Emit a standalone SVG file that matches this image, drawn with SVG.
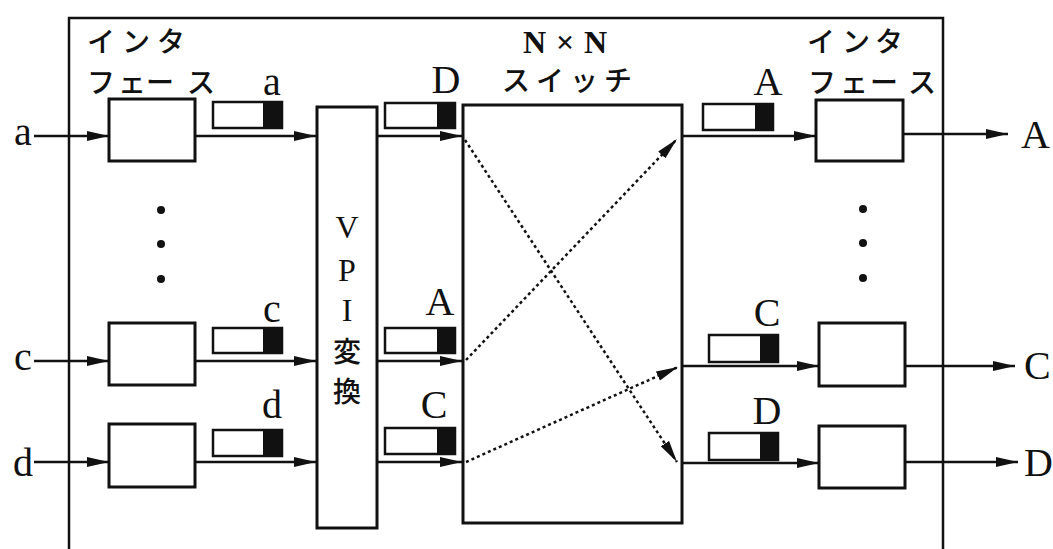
<svg xmlns="http://www.w3.org/2000/svg" width="1053" height="549" viewBox="0 0 1053 549">
<style>
.box{fill:#fff;stroke:#111;stroke-width:3}
.cell{fill:#fff;stroke:#111;stroke-width:2.5}
.tag{fill:#111}
.ln{fill:none;stroke:#111;stroke-width:2.5}
.dot{fill:none;stroke:#111;stroke-width:2.5;stroke-dasharray:3 3}
.lbl{font-family:"Liberation Serif",serif;font-size:40px;fill:#111}
.lbl2{font-family:"Liberation Serif",serif;font-size:32px;fill:#111}
.jp{font-family:"Noto Sans CJK JP",sans-serif;font-size:28px;font-weight:500;fill:#111}
.jp2{font-family:"Noto Sans CJK JP",sans-serif;font-size:28px;font-weight:500;fill:#111}
</style>
<defs>
<marker id="arr" viewBox="0 0 22 12" refX="22" refY="6" markerWidth="22" markerHeight="12" markerUnits="userSpaceOnUse" orient="auto">
<path d="M0,1 L22,6 L0,11 Z" fill="#111"/>
</marker>
</defs>
<rect width="1053" height="549" fill="#fff"/>

<g id="frame">
<path d="M69,549 V18 H943 V549" class="ln" stroke-width="3"/>
<text class="jp"><tspan x="87 122 157" y="52">インタ</tspan></text>
<text class="jp"><tspan x="87 118 146 187" y="93">フェース</tspan></text>
<text class="jp"><tspan x="807 842 875" y="52">インタ</tspan></text>
<text class="jp"><tspan x="808 840 870 908" y="93">フェース</tspan></text>
</g>

<g id="in-if-a"><rect class="box" x="109" y="99" width="86" height="62"/></g>
<g id="in-if-c"><rect class="box" x="109" y="323" width="86" height="62"/></g>
<g id="in-if-d"><rect class="box" x="109" y="424" width="86" height="63"/></g>
<g id="in-dots"><circle cx="161" cy="210" r="4" fill="#111"/><circle cx="161" cy="244" r="4" fill="#111"/><circle cx="161" cy="279" r="4" fill="#111"/></g>

<g id="cell-a"><rect class="cell" x="213" y="102" width="69" height="26"/><rect class="tag" x="263" y="102" width="19" height="26"/><text class="lbl" x="272" y="95" text-anchor="middle">a</text></g>
<g id="cell-c"><rect class="cell" x="213" y="328" width="69" height="25"/><rect class="tag" x="263" y="328" width="19" height="25"/><text class="lbl" x="272" y="322" text-anchor="middle">c</text></g>
<g id="cell-d"><rect class="cell" x="213" y="430" width="69" height="26"/><rect class="tag" x="263" y="430" width="19" height="26"/><text class="lbl" x="272" y="418" text-anchor="middle">d</text></g>

<g id="vpi">
<rect class="box" x="317" y="107" width="60" height="421"/>
<text class="lbl2" x="347" y="238" text-anchor="middle">V</text>
<text class="lbl2" x="347" y="281" text-anchor="middle">P</text>
<text class="lbl2" x="347" y="321" text-anchor="middle">I</text>
<text class="jp2" x="347" y="362" text-anchor="middle">変</text>
<text class="jp2" x="347" y="402" text-anchor="middle">換</text>
</g>

<g id="cell-D"><rect class="cell" x="385" y="103" width="70" height="25"/><rect class="tag" x="437" y="103" width="18" height="25"/><text class="lbl" x="446" y="93" text-anchor="middle">D</text></g>
<g id="cell-A1"><rect class="cell" x="385" y="328" width="70" height="25"/><rect class="tag" x="437" y="328" width="18" height="25"/><text class="lbl" x="440" y="315" text-anchor="middle">A</text></g>
<g id="cell-C1"><rect class="cell" x="385" y="428" width="70" height="26"/><rect class="tag" x="437" y="428" width="18" height="26"/><text class="lbl" x="434" y="418" text-anchor="middle">C</text></g>

<g id="switch">
<rect class="box" x="463" y="105" width="219" height="418"/>
<text class="lbl2" font-weight="bold"><tspan x="523" y="53">N</tspan><tspan x="556" y="53">×</tspan><tspan x="584" y="53">N</tspan></text>
<text class="jp"><tspan x="502 536 570 604" y="91">スイッチ</tspan></text>
</g>

<g id="cell-A2"><rect class="cell" x="703" y="104" width="70" height="26"/><rect class="tag" x="755" y="104" width="18" height="26"/><text class="lbl" x="768" y="95" text-anchor="middle">A</text></g>
<g id="cell-C2"><rect class="cell" x="709" y="335" width="69" height="27"/><rect class="tag" x="760" y="335" width="18" height="27"/><text class="lbl" x="767" y="326" text-anchor="middle">C</text></g>
<g id="cell-D2"><rect class="cell" x="709" y="433" width="69" height="27"/><rect class="tag" x="760" y="433" width="18" height="27"/><text class="lbl" x="767" y="424" text-anchor="middle">D</text></g>

<g id="out-if-A"><rect class="box" x="816" y="100" width="87" height="61"/></g>
<g id="out-if-C"><rect class="box" x="819" y="323" width="86" height="63"/></g>
<g id="out-if-D"><rect class="box" x="819" y="426" width="86" height="62"/></g>
<g id="out-dots"><circle cx="863" cy="209" r="4" fill="#111"/><circle cx="863" cy="243" r="4" fill="#111"/><circle cx="863" cy="278" r="4" fill="#111"/></g>

<g id="io-labels">
<text class="lbl" x="14" y="145">a</text>
<text class="lbl" x="14" y="370">c</text>
<text class="lbl" x="13" y="476">d</text>
<text class="lbl" x="1021" y="148" font-size="38">A</text>
<text class="lbl" x="1024" y="379" font-size="38">C</text>
<text class="lbl" x="1024" y="476" font-size="38">D</text>
</g>

<g id="connectors">
<line class="ln" x1="34" y1="136" x2="109" y2="136" marker-end="url(#arr)"/>
<line class="ln" x1="34" y1="361" x2="109" y2="361" marker-end="url(#arr)"/>
<line class="ln" x1="34" y1="462" x2="109" y2="462" marker-end="url(#arr)"/>
<line class="ln" x1="195" y1="136" x2="316" y2="136" marker-end="url(#arr)"/>
<line class="ln" x1="195" y1="361" x2="316" y2="361" marker-end="url(#arr)"/>
<line class="ln" x1="195" y1="462" x2="316" y2="462" marker-end="url(#arr)"/>
<line class="ln" x1="377" y1="136" x2="462" y2="136" marker-end="url(#arr)"/>
<line class="ln" x1="377" y1="361" x2="462" y2="361" marker-end="url(#arr)"/>
<line class="ln" x1="377" y1="462" x2="462" y2="462" marker-end="url(#arr)"/>
<line class="dot" x1="465" y1="140" x2="677" y2="462" marker-end="url(#arr)"/>
<line class="dot" x1="466" y1="360" x2="677" y2="139" marker-end="url(#arr)"/>
<line class="dot" x1="466" y1="462" x2="678" y2="367" marker-end="url(#arr)"/>
<line class="ln" x1="682" y1="136" x2="816" y2="136" marker-end="url(#arr)"/>
<line class="ln" x1="682" y1="366" x2="819" y2="366" marker-end="url(#arr)"/>
<line class="ln" x1="682" y1="463" x2="819" y2="463" marker-end="url(#arr)"/>
<line class="ln" x1="903" y1="134" x2="1008" y2="134" marker-end="url(#arr)"/>
<line class="ln" x1="905" y1="366" x2="1015" y2="366" marker-end="url(#arr)"/>
<line class="ln" x1="905" y1="462" x2="1018" y2="462" marker-end="url(#arr)"/>
</g>
</svg>
